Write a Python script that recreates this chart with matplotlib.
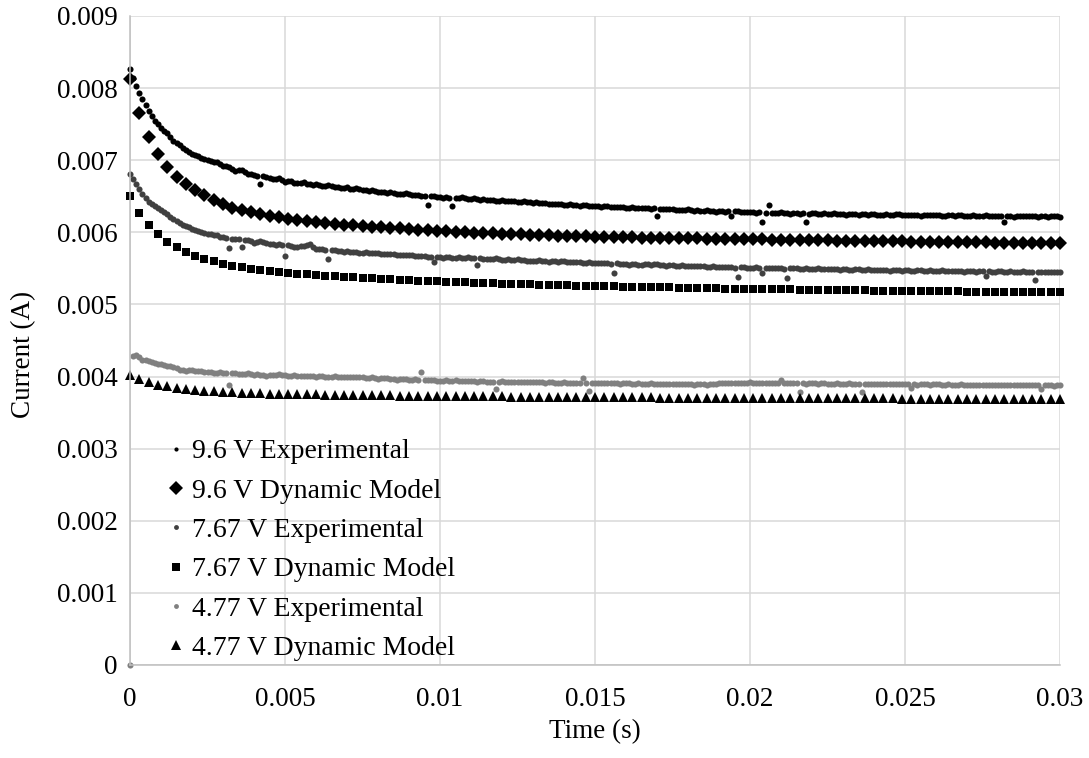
import matplotlib
matplotlib.use("Agg")
import matplotlib.pyplot as plt
from matplotlib.ticker import MultipleLocator, FuncFormatter
import numpy as np

plt.rcParams["font.family"] = ["Liberation Serif", "DejaVu Serif"]

# measured current in mA, sampled every 0.1 ms from 0 to 30 ms
exp_96 = [
    8.262, 8.140, 8.031, 7.935, 7.846, 7.760, 7.688, 7.610, 7.541, 7.500,
    7.452, 7.409, 7.371, 7.322, 7.268, 7.245, 7.214, 7.171, 7.139, 7.108,
    7.086, 7.071, 7.052, 7.031, 7.018, 7.006, 6.986, 6.982, 6.971, 6.941,
    6.918, 6.913, 6.902, 6.874, 6.853, 6.868, 6.861, 6.834, 6.812, 6.808,
    6.797, 6.784, 6.668, 6.779, 6.771, 6.753, 6.742, 6.737, 6.748, 6.722,
    6.703, 6.716, 6.712, 6.691, 6.684, 6.681, 6.693, 6.675, 6.668, 6.662,
    6.676, 6.658, 6.649, 6.643, 6.655, 6.637, 6.628, 6.624, 6.611, 6.617,
    6.622, 6.607, 6.598, 6.611, 6.604, 6.591, 6.582, 6.576, 6.587, 6.569,
    6.561, 6.566, 6.553, 6.549, 6.562, 6.545, 6.538, 6.532, 6.527, 6.541,
    6.534, 6.519, 6.512, 6.516, 6.503, 6.509, 6.381, 6.502, 6.498, 6.491,
    6.486, 6.479, 6.492, 6.483, 6.371, 6.477, 6.474, 6.486, 6.481, 6.469,
    6.462, 6.471, 6.458, 6.452, 6.467, 6.455, 6.447, 6.452, 6.441, 6.436,
    6.449, 6.438, 6.429, 6.441, 6.433, 6.426, 6.418, 6.429, 6.424, 6.414,
    6.408, 6.416, 6.402, 6.405, 6.411, 6.399, 6.393, 6.387, 6.398, 6.392,
    6.385, 6.379, 6.389, 6.382, 6.374, 6.369, 6.381, 6.374, 6.366, 6.361,
    6.372, 6.364, 6.358, 6.367, 6.364, 6.355, 6.351, 6.346, 6.356, 6.350,
    6.343, 6.339, 6.348, 6.341, 6.337, 6.331, 6.342, 6.336, 6.329, 6.332,
    6.224, 6.326, 6.322, 6.317, 6.328, 6.320, 6.316, 6.312, 6.309, 6.314,
    6.318, 6.306, 6.301, 6.310, 6.297, 6.302, 6.305, 6.296, 6.291, 6.285,
    6.298, 6.293, 6.286, 6.294, 6.226, 6.291, 6.289, 6.283, 6.279, 6.288,
    6.284, 6.277, 6.273, 6.280, 6.143, 6.271, 6.378, 6.274, 6.268, 6.263,
    6.276, 6.270, 6.262, 6.257, 6.269, 6.266, 6.258, 6.264, 6.145, 6.259,
    6.268, 6.262, 6.258, 6.253, 6.264, 6.259, 6.254, 6.262, 6.261, 6.255,
    6.251, 6.247, 6.258, 6.252, 6.248, 6.243, 6.255, 6.250, 6.246, 6.253,
    6.252, 6.246, 6.243, 6.238, 6.250, 6.245, 6.241, 6.249, 6.248, 6.240,
    6.239, 6.234, 6.246, 6.241, 6.237, 6.232, 6.244, 6.238, 6.235, 6.241,
    6.242, 6.236, 6.233, 6.229, 6.240, 6.235, 6.231, 6.237, 6.238, 6.232,
    6.229, 6.224, 6.236, 6.230, 6.227, 6.233, 6.234, 6.228, 6.225, 6.221,
    6.232, 6.227, 6.144, 6.229, 6.224, 6.219, 6.231, 6.226, 6.222, 6.228,
    6.229, 6.223, 6.220, 6.216, 6.227, 6.222, 6.218, 6.224, 6.225, 6.220,
    6.217,
]
exp_767 = [
    6.815, 6.741, 6.672, 6.601, 6.538, 6.476, 6.421, 6.389, 6.362, 6.331,
    6.305, 6.279, 6.248, 6.214, 6.186, 6.158, 6.132, 6.105, 6.083, 6.069,
    6.051, 6.033, 6.024, 6.009, 5.991, 5.979, 5.973, 5.967, 5.958, 5.942,
    5.936, 5.921, 5.781, 5.914, 5.903, 5.909, 5.802, 5.889, 5.896, 5.874,
    5.858, 5.866, 5.874, 5.861, 5.849, 5.844, 5.836, 5.829, 5.842, 5.826,
    5.667, 5.818, 5.808, 5.801, 5.796, 5.804, 5.812, 5.825, 5.834, 5.791,
    5.772, 5.768, 5.763, 5.759, 5.628, 5.755, 5.751, 5.746, 5.738, 5.733,
    5.744, 5.731, 5.722, 5.727, 5.715, 5.709, 5.728, 5.718, 5.709, 5.716,
    5.713, 5.705, 5.698, 5.693, 5.704, 5.697, 5.688, 5.684, 5.681, 5.687,
    5.692, 5.679, 5.668, 5.671, 5.674, 5.666, 5.661, 5.655, 5.582, 5.662,
    5.657, 5.651, 5.663, 5.656, 5.648, 5.643, 5.654, 5.649, 5.641, 5.652,
    5.647, 5.639, 5.543, 5.642, 5.636, 5.631, 5.629, 5.634, 5.638, 5.627,
    5.622, 5.618, 5.628, 5.620, 5.614, 5.624, 5.621, 5.613, 5.609, 5.606,
    5.603, 5.609, 5.612, 5.603, 5.598, 5.594, 5.604, 5.598, 5.591, 5.601,
    5.597, 5.589, 5.586, 5.582, 5.592, 5.588, 5.581, 5.577, 5.587, 5.580,
    5.576, 5.572, 5.581, 5.575, 5.571, 5.567, 5.441, 5.573, 5.566, 5.561,
    5.558, 5.553, 5.564, 5.558, 5.553, 5.549, 5.559, 5.554, 5.548, 5.556,
    5.554, 5.546, 5.543, 5.538, 5.549, 5.543, 5.538, 5.534, 5.544, 5.537,
    5.533, 5.539, 5.527, 5.531, 5.536, 5.528, 5.522, 5.518, 5.528, 5.522,
    5.517, 5.513, 5.524, 5.519, 5.514, 5.510, 5.382, 5.516, 5.519, 5.511,
    5.508, 5.504, 5.514, 5.509, 5.431, 5.508, 5.505, 5.500, 5.511, 5.506,
    5.501, 5.497, 5.372, 5.503, 5.507, 5.501, 5.497, 5.494, 5.503, 5.498,
    5.493, 5.488, 5.499, 5.494, 5.489, 5.485, 5.495, 5.491, 5.486, 5.481,
    5.492, 5.487, 5.483, 5.479, 5.489, 5.485, 5.480, 5.476, 5.486, 5.482,
    5.477, 5.473, 5.483, 5.478, 5.474, 5.470, 5.481, 5.476, 5.472, 5.468,
    5.478, 5.474, 5.469, 5.465, 5.476, 5.471, 5.467, 5.463, 5.473, 5.469,
    5.465, 5.461, 5.471, 5.466, 5.462, 5.458, 5.469, 5.464, 5.460, 5.456,
    5.467, 5.462, 5.458, 5.454, 5.464, 5.459, 5.391, 5.460, 5.456, 5.452,
    5.462, 5.458, 5.454, 5.450, 5.460, 5.456, 5.452, 5.448, 5.458, 5.454,
    5.449, 5.445, 5.341, 5.451, 5.455, 5.451, 5.447, 5.443, 5.453, 5.449,
    5.446,
]
exp_477 = [
    0.000, 4.282, 4.298, 4.266, 4.236, 4.225, 4.214, 4.199, 4.187, 4.180,
    4.171, 4.163, 4.152, 4.146, 4.139, 4.112, 4.088, 4.094, 4.081, 4.087,
    4.092, 4.081, 4.074, 4.077, 4.069, 4.064, 4.061, 4.055, 4.049, 4.058,
    4.056, 4.051, 3.889, 4.044, 4.047, 4.041, 4.036, 4.031, 4.043, 4.035,
    4.028, 4.033, 4.021, 4.017, 4.014, 4.020, 4.024, 4.027, 4.031, 4.022,
    4.017, 4.011, 4.008, 4.015, 4.012, 4.006, 4.002, 4.004, 4.009, 4.001,
    3.998, 4.003, 4.006, 3.999, 3.994, 3.997, 4.003, 3.995, 3.991, 3.994,
    3.999, 3.992, 3.988, 3.991, 3.995, 3.989, 3.986, 3.983, 3.992, 3.979,
    3.971, 3.978, 3.983, 3.974, 3.968, 3.963, 3.958, 3.961, 3.966, 3.960,
    3.955, 3.959, 3.962, 3.956, 4.058, 3.953, 3.951, 3.954, 3.957, 3.944,
    3.936, 3.942, 3.948, 3.943, 3.939, 3.946, 3.944, 3.938, 3.933, 3.937,
    3.941, 3.935, 3.929, 3.933, 3.937, 3.931, 3.926, 3.930, 3.832, 3.929,
    3.933, 3.928, 3.924, 3.927, 3.931, 3.926, 3.921, 3.924, 3.928, 3.922,
    3.918, 3.922, 3.925, 3.920, 3.916, 3.919, 3.922, 3.917, 3.913, 3.916,
    3.919, 3.914, 3.911, 3.915, 3.917, 3.913, 3.978, 3.911, 3.802, 3.910,
    3.908, 3.912, 3.914, 3.909, 3.905, 3.908, 3.911, 3.906, 3.903, 3.907,
    3.909, 3.904, 3.900, 3.903, 3.907, 3.902, 3.898, 3.901, 3.904, 3.900,
    3.896, 3.899, 3.902, 3.897, 3.893, 3.896, 3.899, 3.894, 3.891, 3.895,
    3.897, 3.893, 3.889, 3.892, 3.895, 3.891, 3.887, 3.890, 3.893, 3.899,
    3.904, 3.908, 3.912, 3.909, 3.906, 3.911, 3.915, 3.912, 3.909, 3.914,
    3.918, 3.912, 3.908, 3.911, 3.914, 3.909, 3.905, 3.908, 3.911, 3.906,
    3.958, 3.909, 3.906, 3.910, 3.912, 3.907, 3.781, 3.906, 3.903, 3.906,
    3.909, 3.904, 3.901, 3.905, 3.907, 3.903, 3.899, 3.902, 3.905, 3.900,
    3.897, 3.901, 3.904, 3.899, 3.895, 3.898, 3.782, 3.897, 3.901, 3.897,
    3.894, 3.898, 3.900, 3.895, 3.892, 3.896, 3.898, 3.894, 3.891, 3.894,
    3.897, 3.893, 3.842, 3.892, 3.889, 3.893, 3.895, 3.891, 3.888, 3.891,
    3.894, 3.890, 3.886, 3.889, 3.892, 3.888, 3.885, 3.888, 3.891, 3.887,
    3.883, 3.886, 3.889, 3.885, 3.882, 3.885, 3.888, 3.884, 3.880, 3.883,
    3.886, 3.882, 3.879, 3.882, 3.885, 3.881, 3.877, 3.880, 3.883, 3.879,
    3.876, 3.879, 3.882, 3.878, 3.822, 3.877, 3.880, 3.877, 3.874, 3.876,
    3.879,
]

# dynamic model output in mA, one point every 0.3 ms
model_96 = [
    8.130, 7.650, 7.320, 7.090, 6.910, 6.773, 6.667, 6.588, 6.514, 6.444,
    6.389, 6.343, 6.310, 6.278, 6.250, 6.227, 6.208, 6.190, 6.171, 6.157,
    6.143, 6.129, 6.118, 6.106, 6.097, 6.088, 6.078, 6.069, 6.062, 6.056,
    6.046, 6.037, 6.030, 6.023, 6.016, 6.009, 6.003, 5.997, 5.991, 5.986,
    5.981, 5.976, 5.971, 5.967, 5.963, 5.959, 5.955, 5.951, 5.948, 5.945,
    5.942, 5.939, 5.936, 5.933, 5.930, 5.928, 5.925, 5.923, 5.921, 5.919,
    5.917, 5.915, 5.913, 5.911, 5.909, 5.907, 5.905, 5.903, 5.901, 5.899,
    5.897, 5.895, 5.893, 5.891, 5.889, 5.887, 5.885, 5.884, 5.882, 5.880,
    5.878, 5.877, 5.875, 5.873, 5.872, 5.870, 5.869, 5.867, 5.866, 5.864,
    5.863, 5.862, 5.860, 5.859, 5.858, 5.857, 5.855, 5.854, 5.853, 5.852,
    5.851,
]
model_767 = [
    6.504, 6.268, 6.101, 5.972, 5.870, 5.792, 5.727, 5.671, 5.625, 5.597,
    5.556, 5.532, 5.514, 5.495, 5.476, 5.463, 5.444, 5.435, 5.426, 5.417,
    5.407, 5.398, 5.390, 5.382, 5.375, 5.368, 5.361, 5.354, 5.348, 5.343,
    5.337, 5.331, 5.326, 5.320, 5.315, 5.310, 5.306, 5.301, 5.297, 5.293,
    5.289, 5.285, 5.281, 5.277, 5.274, 5.270, 5.267, 5.264, 5.261, 5.258,
    5.255, 5.252, 5.250, 5.247, 5.245, 5.242, 5.240, 5.237, 5.235, 5.232,
    5.230, 5.228, 5.226, 5.223, 5.221, 5.219, 5.217, 5.215, 5.213, 5.212,
    5.210, 5.208, 5.206, 5.205, 5.203, 5.201, 5.200, 5.198, 5.196, 5.195,
    5.193, 5.192, 5.190, 5.189, 5.187, 5.186, 5.185, 5.183, 5.182, 5.181,
    5.179, 5.178, 5.177, 5.176, 5.175, 5.174, 5.173, 5.172, 5.171, 5.170,
    5.169,
]
model_477 = [
    4.028, 3.968, 3.926, 3.889, 3.866, 3.843, 3.829, 3.815, 3.806, 3.796,
    3.787, 3.781, 3.776, 3.772, 3.768, 3.765, 3.762, 3.759, 3.757, 3.754,
    3.752, 3.750, 3.748, 3.746, 3.744, 3.742, 3.741, 3.739, 3.738, 3.736,
    3.735, 3.734, 3.732, 3.731, 3.730, 3.729, 3.728, 3.727, 3.726, 3.725,
    3.724, 3.723, 3.722, 3.721, 3.720, 3.719, 3.718, 3.717, 3.716, 3.715,
    3.714, 3.713, 3.713, 3.712, 3.711, 3.710, 3.710, 3.709, 3.708, 3.708,
    3.707, 3.706, 3.706, 3.705, 3.705, 3.704, 3.703, 3.703, 3.702, 3.702,
    3.701, 3.701, 3.700, 3.700, 3.699, 3.699, 3.698, 3.698, 3.697, 3.697,
    3.696, 3.696, 3.696, 3.695, 3.695, 3.694, 3.694, 3.694, 3.693, 3.693,
    3.693, 3.692, 3.692, 3.692, 3.691, 3.691, 3.691, 3.690, 3.690, 3.690,
    3.690,
]

t_exp = np.linspace(0, 0.03, len(exp_96))
t_model = np.linspace(0, 0.03, len(model_96))

# label, time, current, marker, plot size, legend size, colour
series = [
    ("9.6 V Experimental", t_exp, exp_96, "o", 4.4, 3.0, "#000000"),
    ("9.6 V Dynamic Model", t_model, model_96, "D", 7.0, 6.8, "#000000"),
    ("7.67 V Experimental", t_exp, exp_767, "o", 4.4, 3.5, "#404040"),
    ("7.67 V Dynamic Model", t_model, model_767, "s", 5.5, 5.4, "#000000"),
    ("4.77 V Experimental", t_exp, exp_477, "o", 4.4, 3.5, "#808080"),
    ("4.77 V Dynamic Model", t_model, model_477, "^", 6.8, 6.6, "#000000"),
]

fig = plt.figure(figsize=(10.89, 7.58), dpi=100)
ax = fig.add_axes([130 / 1089, 1 - 665 / 758, 930 / 1089, 649 / 758])

for label, t, amps, mk, ms, _, col in series:
    ax.plot(t, np.array(amps) / 1000, linestyle="none", marker=mk, markersize=ms,
            color=col, markeredgewidth=0, label=label, clip_on=False)

ax.set_xlim(0, 0.03)
ax.set_ylim(0, 0.009)
ax.xaxis.set_major_locator(MultipleLocator(0.005))
ax.yaxis.set_major_locator(MultipleLocator(0.001))
fmt = FuncFormatter(lambda v, pos: "{:g}".format(round(v, 6)))
ax.xaxis.set_major_formatter(fmt)
ax.yaxis.set_major_formatter(fmt)
ax.tick_params(axis="both", length=0, labelsize=19.5, colors="#000000")
ax.tick_params(axis="x", pad=16)
ax.tick_params(axis="y", pad=9)

ax.grid(True, color="#d9d9d9", linewidth=1.1)
ax.set_axisbelow(True)
for side in ["top", "right"]:
    ax.spines[side].set_visible(False)
for side in ["left", "bottom"]:
    ax.spines[side].set_color("#bfbfbf")
    ax.spines[side].set_linewidth(1.1)

ax.set_xlabel("Time (s)", fontsize=19.5)
ax.set_ylabel("Current (A)", fontsize=19.5)
ax.xaxis.set_label_coords(0.5, -0.083)
ax.yaxis.set_label_coords(-0.101, 0.479)

leg = ax.legend(loc="lower left", bbox_to_anchor=(0.02, -0.024), frameon=False,
                fontsize=20, handlelength=0.6, handletextpad=0.25,
                labelspacing=0.5, borderpad=0.2)
for handle, s in zip(leg.legend_handles, series):
    handle.set_markersize(s[5])

fig.savefig("out.png", dpi=100)
